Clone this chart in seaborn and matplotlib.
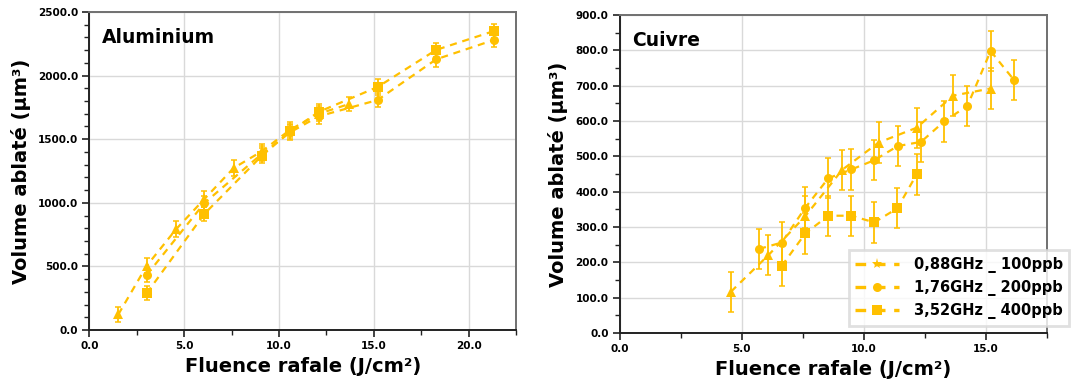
import matplotlib
matplotlib.use("Agg")
import matplotlib.pyplot as plt
from matplotlib.lines import Line2D
from matplotlib.ticker import MultipleLocator, FormatStrFormatter
import seaborn as sns
import pandas as pd

# ---------------- data ----------------
series_labels = ["0,88GHz _ 100ppb", "1,76GHz _ 200ppb", "3,52GHz _ 400ppb"]

# Aluminium
al_tri_x = [1.53, 3.03, 4.58, 6.07, 7.61, 9.10, 10.60, 12.10, 13.69]
al_tri_y = [122, 505, 793, 1030, 1273, 1405, 1575, 1700, 1776]
al_tri_e = [58, 60, 60, 60, 60, 58, 58, 58, 58]
al_cir_x = [3.03, 6.07, 9.10, 10.60, 12.10, 15.20, 18.29, 21.33]
al_cir_y = [433, 998, 1385, 1555, 1680, 1808, 2128, 2280]
al_cir_e = [58, 58, 58, 58, 58, 56, 58, 58]
al_sq_x = [3.03, 6.07, 9.10, 10.60, 12.10, 15.20, 18.29, 21.33]
al_sq_y = [289, 913, 1370, 1561, 1715, 1910, 2202, 2350]
al_sq_e = [55, 55, 58, 58, 58, 60, 58, 58]

# Cuivre
cu_tri_x = [4.56, 6.09, 7.61, 9.12, 10.61, 12.17, 13.67, 15.20]
cu_tri_y = [117, 220, 331, 462, 539, 581, 672, 692]
cu_tri_e = [57, 57, 57, 57, 57, 57, 57, 57]
cu_cir_x = [5.71, 6.64, 7.61, 8.55, 9.50, 10.43, 11.39, 12.35, 13.30, 14.25, 15.20, 16.16]
cu_cir_y = [238, 256, 355, 438, 463, 489, 529, 541, 599, 643, 798, 716]
cu_cir_e = [57, 57, 57, 57, 57, 57, 57, 57, 57, 57, 57, 57]
cu_sq_x = [6.64, 7.61, 8.55, 9.50, 10.43, 11.38, 12.17]
cu_sq_y = [190, 282, 332, 332, 313, 353, 449]
cu_sq_e = [57, 57, 57, 57, 57, 57, 57]

COLOR = "#FFC000"
DASH = (0, (3.2, 2.6))
markers = ["^", "o", "s"]

sns.set_theme(style="white")
plt.rcParams["font.family"] = ["DejaVu Sans"]
plt.rcParams["font.weight"] = "bold"
plt.rcParams["text.color"] = "black"
plt.rcParams["axes.labelcolor"] = "black"
plt.rcParams["xtick.color"] = "black"
plt.rcParams["ytick.color"] = "black"

fig = plt.figure(figsize=(10.9, 3.85), dpi=100)
ax1 = fig.add_axes([0.0819, 0.1429, 0.3915, 0.8259])
ax2 = fig.add_axes([0.5685, 0.135, 0.3918, 0.826])


def draw(ax, groups):
    frames = []
    for lab, (xs, ys, es) in zip(series_labels, groups):
        frames.append(pd.DataFrame({"x": xs, "y": ys, "e": es, "serie": lab}))
    df = pd.concat(frames, ignore_index=True)
    for i, lab in enumerate(series_labels):
        d = df[df["serie"] == lab]
        ax.errorbar(d["x"], d["y"], yerr=d["e"], fmt="none", ecolor=COLOR,
                    elinewidth=1.3, capsize=2.2, capthick=1.1, zorder=3)
        sns.lineplot(data=d, x="x", y="y", ax=ax, color=COLOR, sort=False,
                     linewidth=1.6, linestyle=DASH, marker=markers[i],
                     markersize=6.5, markeredgewidth=0, legend=False,
                     zorder=4, estimator=None, errorbar=None)


draw(ax1, [(al_tri_x, al_tri_y, al_tri_e),
           (al_cir_x, al_cir_y, al_cir_e),
           (al_sq_x, al_sq_y, al_sq_e)])
draw(ax2, [(cu_tri_x, cu_tri_y, cu_tri_e),
           (cu_cir_x, cu_cir_y, cu_cir_e),
           (cu_sq_x, cu_sq_y, cu_sq_e)])


def style(ax, xmax, ymax, ymaj, ymin_step, title):
    ax.set_xlim(0, xmax)
    ax.set_ylim(0, ymax)
    ax.xaxis.set_major_locator(MultipleLocator(5))
    ax.xaxis.set_minor_locator(MultipleLocator(2.5))
    ax.yaxis.set_major_locator(MultipleLocator(ymaj))
    ax.yaxis.set_minor_locator(MultipleLocator(ymin_step))
    ax.xaxis.set_major_formatter(FormatStrFormatter("%.1f"))
    ax.yaxis.set_major_formatter(FormatStrFormatter("%.1f"))
    ax.grid(True, which="major", color="#D9D9D9", linewidth=1.0)
    ax.set_axisbelow(True)
    ax.tick_params(which="major", direction="out", length=5, width=1.2,
                   color="#222222", labelsize=7.5, pad=3, left=True, bottom=True,
                   labelcolor="black")
    ax.tick_params(which="minor", direction="out", length=3.5, width=1.0,
                   color="#222222", left=True, bottom=True)
    for lbl in ax.get_xticklabels() + ax.get_yticklabels():
        lbl.set_fontweight("bold")
    for s in ["left", "bottom"]:
        ax.spines[s].set_color("#222222")
        ax.spines[s].set_linewidth(1.4)
    for s in ["top", "right"]:
        ax.spines[s].set_color("#707070")
        ax.spines[s].set_linewidth(1.4)
    ax.set_xlabel("Fluence rafale (J/cm²)", fontsize=14, fontweight="bold",
                  labelpad=4, color="black")
    ax.set_ylabel("Volume ablaté (µm³)", fontsize=14, fontweight="bold",
                  labelpad=5, color="black")
    ax.text(0.03, 0.95, title, transform=ax.transAxes, fontsize=13.5,
            fontweight="bold", ha="left", va="top", color="black")


style(ax1, 22.5, 2500, 500, 100, "Aluminium")
style(ax2, 17.5, 900, 100, 50, "Cuivre")

handles = [Line2D([0], [0], color=COLOR, linestyle=DASH, linewidth=2.4,
                  marker=m, markersize=ms, markeredgewidth=0)
           for m, ms in zip(["*", "o", "s"], [8, 6.5, 6.5])]
leg = fig.legend(handles, series_labels, loc="lower left",
                 bbox_to_anchor=(848.7 / 1090, 1 - 326 / 385),
                 frameon=True, fancybox=False,
                 prop={"weight": "bold", "size": 10.5},
                 handlelength=3.0, handletextpad=1.0, labelspacing=0.5,
                 borderpad=0.45, borderaxespad=0)
leg.get_frame().set_edgecolor("#D9D9D9")
leg.get_frame().set_linewidth(2.0)
for t in leg.get_texts():
    t.set_color("black")

fig.savefig("out.png", dpi=100)
